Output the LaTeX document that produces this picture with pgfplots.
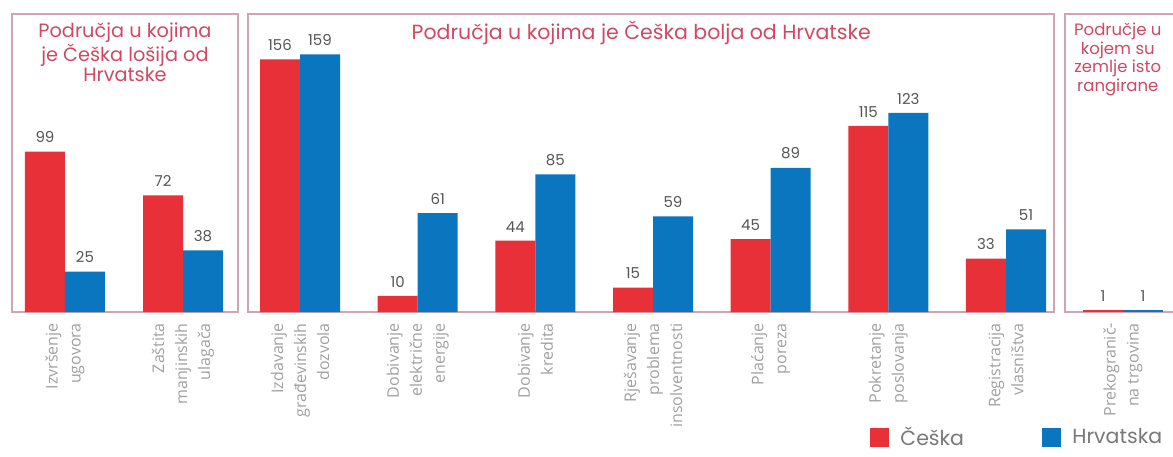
\documentclass[border=0pt]{standalone}
\usepackage{fontspec}
\usepackage{pgfplots}
\pgfplotsset{compat=1.18}
\setmainfont{Poppins}
\newfontfamily\tickfont{Open Sans}
\definecolor{cz}{RGB}{232,48,56}
\definecolor{hr}{RGB}{10,118,192}
\definecolor{boxc}{RGB}{208,165,175}
\definecolor{titc}{RGB}{208,72,98}
\definecolor{valc}{RGB}{85,85,85}
\definecolor{tickc}{RGB}{160,160,160}
\definecolor{legc}{RGB}{120,120,120}
\pgfplotsset{
  panel/.style={
    scale only axis, anchor=south west,
    height=298pt, ymin=0, ymax=184,
    ybar, bar width=40pt,
    /pgf/number format/assume math mode=true,
    axis line style={draw=boxc, line width=1.3pt},
    ytick=\empty, xtick=data, major tick length=0pt,
    xticklabel shift=11pt,
    x tick label style={rotate=90, anchor=east, align=right,
      font=\tickfont\fontsize{16}{23}\selectfont, text=tickc, inner sep=0pt},
    title style={font=\fontsize{19.3}{20.5}\selectfont, text=titc, align=center,
      anchor=north, yshift=-15pt, inner sep=0pt},
    nodes near coords,
    every node near coord/.append style={font=\fontsize{15}{15}\selectfont,
      text=valc, inner sep=0pt, anchor=south, yshift=8.5pt},
    clip=false,
    legend style={draw=none, fill=none, anchor=west, inner sep=0pt,
      font=\fontsize{20.5}{20.5}\selectfont, text=legc,
      /tikz/every odd column/.append style={column sep=9pt}},
  },
  czplot/.style={fill=cz, draw=none, bar shift=-20pt},
  hrplot/.style={fill=hr, draw=none, bar shift=20pt},
}
\begin{document}
\begin{tikzpicture}
\useasboundingbox (0,0) rectangle (1173pt,456pt);
% Panel 1
\begin{axis}[panel, at={(12pt,144pt)}, width=226pt, xmin=-0.449, xmax=1.466,
  xticklabels={{Izvršenje\\ugovora},{Zaštita\\manjinskih\\ulagača}},
  title={Područja u kojima\\je Češka lošija od\\Hrvatske}]
\addplot[czplot] coordinates {(0,99) (1,72)};
\addplot[hrplot] coordinates {(0,25) (1,38)};
\end{axis}
% Panel 2
\begin{axis}[panel, at={(248pt,144pt)}, width=806pt, xmin=-0.442, xmax=6.408,
  xticklabels={{Izdavanje\\građevinskih\\dozvola},{Dobivanje\\električne\\energije},
    {Dobivanje\\kredita},{Rješavanje\\problema\\insolventnosti},{Plaćanje\\poreza},
    {Pokretanje\\poslovanja},{Registracija\\vlasništva}},
  title={Područja u kojima je Češka bolja od Hrvatske},
  title style={at={(0.488,1)}, font=\fontsize{20.5}{22}\selectfont, yshift=2pt},
  legend style={at={(0.772,-0.4195)}}]
\addplot[czplot, legend image code/.code={\fill[cz] (0pt,-9.5pt) rectangle (19pt,9.5pt);}]
  coordinates {(0,156) (1,10) (2,44) (3,15) (4,45) (5,115) (6,33)};
\addlegendentry{Češka}
\addplot[hrplot] coordinates {(0,159) (1,61) (2,85) (3,59) (4,89) (5,123) (6,51)};
\end{axis}
% Panel 3
\begin{axis}[panel, at={(1065pt,144pt)}, width=120pt, xmin=-0.493, xmax=0.527,
  xticklabels={{Prekogranič-\\na trgovina}},
  title={Područje u\\kojem su\\zemlje isto\\rangirane},
  title style={at={(0.44,1)}, font=\fontsize{16.5}{18.5}\selectfont},
  legend style={at={(-0.19,-0.4195)}}]
\addplot[czplot, forget plot] coordinates {(0,1)};
\addplot[hrplot, legend image code/.code={\fill[hr] (0pt,-9.5pt) rectangle (19pt,9.5pt);}]
  coordinates {(0,1)};
\addlegendentry{Hrvatska}
\end{axis}
\end{tikzpicture}
\end{document}
